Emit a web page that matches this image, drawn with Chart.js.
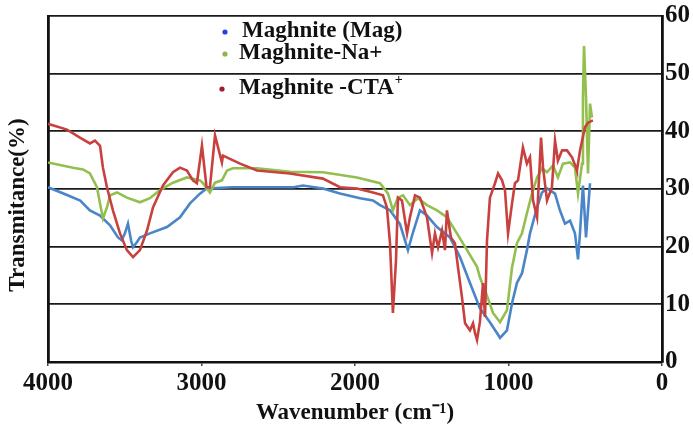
<!DOCTYPE html>
<html>
<head>
<meta charset="utf-8">
<title>FTIR spectra</title>
<script src="https://cdn.jsdelivr.net/npm/chart.js@4.4.0/dist/chart.umd.min.js"></script>
<style>
    html, body { margin: 0; padding: 0; background: #fff; }
    #wrap { width: 693px; height: 431px; }
</style>
</head>
<body>
<div id="wrap"><canvas id="ftirChart" width="693" height="431"></canvas></div>
<script>
// Maghnite (Mag)
const magWn = [4000, 3880, 3790, 3727, 3661, 3596, 3544, 3520, 3499, 3479, 3459, 3446, 3420, 3401, 3336, 3225, 3140, 3075, 3010, 2967, 2800, 2600, 2400, 2339, 2209, 2098, 1967, 1883, 1837, 1772, 1707, 1655, 1622, 1577, 1531, 1466, 1381, 1316, 1251, 1186, 1121, 1055, 1010, 977, 945, 912, 880, 860, 814, 782, 749, 697, 665, 632, 599, 567, 547, 534, 515, 495, 469];
const magT = [30.3, 29.0, 28.0, 26.3, 25.4, 23.7, 21.6, 21.1, 22.3, 24.0, 21.1, 19.9, 20.8, 21.6, 22.3, 23.4, 25.1, 27.5, 29.2, 30.1, 30.3, 30.3, 30.3, 30.6, 30.1, 29.2, 28.4, 28.0, 27.2, 26.3, 23.9, 19.4, 22.5, 26.3, 25.4, 23.4, 21.6, 18.2, 13.7, 9.3, 6.9, 4.2, 5.5, 10.2, 13.7, 15.4, 19.4, 22.3, 26.8, 29.4, 30.1, 29.2, 26.3, 24.0, 24.5, 22.3, 17.8, 22.5, 30.6, 21.6, 31.0];

// Maghnite-Na+
const naWn = [4000, 3837, 3772, 3727, 3681, 3661, 3642, 3616, 3596, 3551, 3486, 3401, 3336, 3271, 3186, 3095, 3010, 2990, 2945, 2912, 2867, 2834, 2795, 2638, 2424, 2209, 1987, 1837, 1785, 1753, 1720, 1687, 1642, 1590, 1531, 1466, 1401, 1336, 1270, 1205, 1186, 1140, 1101, 1055, 1010, 977, 945, 912, 880, 847, 814, 782, 749, 710, 678, 645, 599, 567, 547, 521, 515, 508, 495, 482, 469, 456];
const naT = [34.6, 33.7, 33.4, 32.7, 30.3, 27.5, 24.9, 26.8, 28.9, 29.4, 28.5, 27.7, 28.4, 29.8, 31.1, 32.0, 31.5, 31.0, 29.4, 31.1, 31.5, 33.2, 33.6, 33.6, 33.0, 32.9, 32.0, 31.0, 29.2, 26.3, 28.5, 28.9, 27.2, 28.4, 27.2, 26.3, 25.1, 22.3, 19.4, 16.5, 14.7, 11.5, 8.5, 6.9, 9.0, 16.4, 20.6, 22.3, 25.8, 29.2, 32.0, 33.6, 32.9, 34.1, 32.0, 34.4, 34.6, 33.7, 29.2, 34.4, 45.8, 54.8, 45.8, 32.7, 44.8, 42.4];

// Maghnite-CTA+
const ctaWn = [4000, 3876, 3792, 3727, 3694, 3661, 3642, 3616, 3577, 3531, 3486, 3446, 3401, 3355, 3316, 3251, 3186, 3140, 3095, 3056, 3030, 2997, 2967, 2945, 2912, 2867, 2860, 2749, 2638, 2424, 2209, 2098, 1987, 1883, 1818, 1792, 1772, 1753, 1733, 1720, 1694, 1661, 1642, 1609, 1577, 1531, 1498, 1479, 1459, 1433, 1414, 1401, 1375, 1349, 1329, 1303, 1283, 1251, 1231, 1218, 1205, 1186, 1166, 1153, 1140, 1121, 1088, 1068, 1042, 1023, 1003, 977, 958, 938, 906, 880, 860, 840, 814, 788, 775, 749, 717, 697, 678, 651, 619, 586, 560, 554, 534, 502, 482, 450];
const ctaT = [41.3, 40.3, 38.9, 37.9, 38.4, 37.5, 33.7, 30.3, 26.3, 22.3, 19.4, 18.2, 19.4, 22.8, 26.8, 30.6, 32.9, 33.7, 33.2, 31.5, 31.0, 37.5, 30.3, 30.3, 39.3, 34.6, 35.8, 34.4, 33.2, 32.7, 31.8, 30.3, 30.1, 29.4, 28.9, 26.8, 20.6, 8.5, 17.6, 28.5, 28.0, 22.3, 25.1, 28.9, 28.5, 25.1, 18.9, 22.3, 19.9, 22.8, 19.4, 26.3, 21.6, 20.6, 16.4, 11.2, 6.7, 5.5, 6.7, 5.0, 3.8, 7.0, 13.7, 7.8, 21.1, 28.5, 31.0, 32.7, 31.5, 29.8, 22.3, 27.5, 31.0, 31.5, 37.2, 34.4, 35.5, 28.0, 25.1, 38.9, 33.7, 28.0, 30.3, 38.4, 34.9, 36.7, 36.7, 35.5, 33.7, 33.2, 36.7, 40.7, 41.5, 41.9];

const xTicks = [4000, 3000, 2000, 1000, 0];
const yTicks = [0, 10, 20, 30, 40, 50, 60];

const serif = "'Liberation Serif', 'Times New Roman', serif";

function toPoints(wn, t) {
    return wn.map((w, i) => ({ x: w, y: t[i] }));
}

// legend entries are drawn by hand inside the plot
const legendPlugin = {
    id: 'innerLegend',
    afterDraw(chart) {
        const ctx = chart.ctx;
        const rows = [
            { dotX: 225, textX: 242, y: 31, dot: '#1f45e6', text: 'Maghnite (Mag)' },
            { dotX: 225, textX: 239, y: 53, dot: '#8fb552', text: 'Maghnite-Na+' },
            { dotX: 222, textX: 239, y: 88, dot: '#a3192e', text: 'Maghnite -CTA', sup: '+' }
        ];
        ctx.save();
        ctx.textBaseline = 'middle';
        ctx.textAlign = 'left';
        rows.forEach(r => {
            ctx.fillStyle = r.dot;
            ctx.beginPath();
            ctx.arc(r.dotX, r.y + 1, 2.6, 0, Math.PI * 2);
            ctx.fill();
            ctx.fillStyle = '#111';
            ctx.font = 'bold 23px ' + serif;
            ctx.fillText(r.text, r.textX, r.y);
            if (r.sup) {
                const w = ctx.measureText(r.text).width;
                ctx.font = 'bold 14px ' + serif;
                ctx.fillText(r.sup, r.textX + w + 1, r.y - 8);
            }
        });

        // y axis title
        ctx.translate(18, 205);
        ctx.rotate(-Math.PI / 2);
        ctx.textAlign = 'center';
        ctx.font = 'bold 23px ' + serif;
        ctx.fillText('Transmitance(%)', 0, 0);
        ctx.restore();
    }
};

const ctx = document.getElementById('ftirChart').getContext('2d');
const ftirChart = new Chart(ctx, {
    type: 'line',
    data: {
        datasets: [
            {
                label: 'Maghnite -CTA+',
                data: toPoints(ctaWn, ctaT),
                borderColor: '#c9413f',
                borderWidth: 2.6,
                order: 0
            },
            {
                label: 'Maghnite-Na+',
                data: toPoints(naWn, naT),
                borderColor: '#93bf4f',
                borderWidth: 2.6,
                order: 1
            },
            {
                label: 'Maghnite (Mag)',
                data: toPoints(magWn, magT),
                borderColor: '#4a85c8',
                borderWidth: 2.6,
                order: 2
            }
        ]
    },
    options: {
        responsive: false,
        animation: false,
        devicePixelRatio: 1,
        layout: { padding: { top: 15, left: 0, right: 0, bottom: 0 } },
        elements: {
            point: { radius: 0 },
            line: { tension: 0, fill: false }
        },
        plugins: {
            legend: { display: false },
            tooltip: { enabled: false }
        },
        scales: {
            x: {
                type: 'linear',
                position: 'bottom',
                min: 0,
                max: 4000,
                reverse: true,
                afterBuildTicks: s => { s.ticks = xTicks.map(v => ({ value: v })); },
                afterFit: s => { s.height = 69; },
                ticks: {
                    color: '#111',
                    padding: 3,
                    maxRotation: 0,
                    autoSkip: false,
                    callback: v => String(v),
                    font: { family: serif, size: 25, weight: 'bold' }
                },
                grid: {
                    drawOnChartArea: false,
                    drawTicks: true,
                    tickLength: 4,
                    color: '#444',
                    lineWidth: 1.5
                },
                border: { display: true, color: '#111', width: 2.5 },
                title: {
                    display: true,
                    text: 'Wavenumber (cm\u207B\u00B9)',
                    color: '#111',
                    padding: { top: 0, bottom: 4 },
                    font: { family: serif, size: 23, weight: 'bold' }
                }
            },
            y: {
                type: 'linear',
                position: 'right',
                min: 0,
                max: 60,
                afterBuildTicks: s => { s.ticks = yTicks.map(v => ({ value: v })); },
                afterFit: s => { s.width = 31; },
                ticks: {
                    color: '#111',
                    padding: 1,
                    callback: v => String(v),
                    font: { family: serif, size: 25, weight: 'bold' }
                },
                grid: {
                    color: '#1a1a1a',
                    lineWidth: 1.8,
                    drawTicks: true,
                    tickLength: 2
                },
                border: { display: true, color: '#111', width: 2.8 }
            },
            yLeft: {
                type: 'linear',
                position: 'left',
                min: 0,
                max: 60,
                afterFit: s => { s.width = 48; },
                ticks: { display: false },
                grid: { display: false },
                border: { display: true, color: '#111', width: 2.8 }
            }
        }
    },
    plugins: [legendPlugin]
});
</script>
</body>
</html>
